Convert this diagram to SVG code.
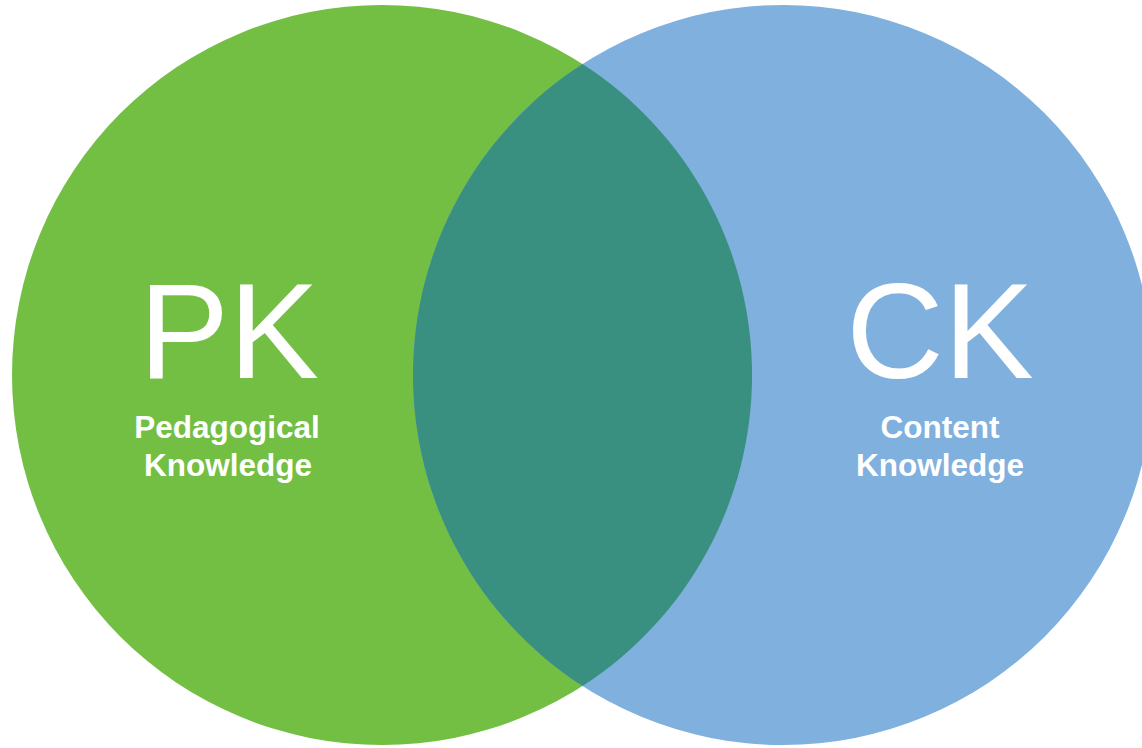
<svg xmlns="http://www.w3.org/2000/svg" width="1142" height="748" viewBox="0 0 1142 748">
<style>
.big{font-family:"Liberation Sans",Arial,sans-serif;font-size:135px;fill:#fff;text-anchor:middle}
.sub{font-family:"Liberation Sans",Arial,sans-serif;font-size:31.5px;font-weight:bold;fill:#fff;text-anchor:middle}
</style>
<rect width="1142" height="748" fill="#fff"/>
<g id="pk">
<circle cx="382" cy="375" r="370" fill="#72BF44"/>
</g>
<g id="ck">
<circle cx="783" cy="375" r="370" fill="#7FB0DE"/>
</g>
<g id="overlap">
<path d="M582.5,64 A370,370 0 0 1 582.5,686 A370,370 0 0 1 582.5,64 Z" fill="#3A9080"/>
</g>
<g id="pk-text">
<text class="big" x="229" y="378">PK</text>
<text class="sub" x="227" y="438">Pedagogical</text>
<text class="sub" x="228" y="476">Knowledge</text>
</g>
<g id="ck-text">
<text class="big" x="940" y="378">CK</text>
<text class="sub" x="940" y="438">Content</text>
<text class="sub" x="940" y="476">Knowledge</text>
</g>
<g id="connectors"/>
</svg>
